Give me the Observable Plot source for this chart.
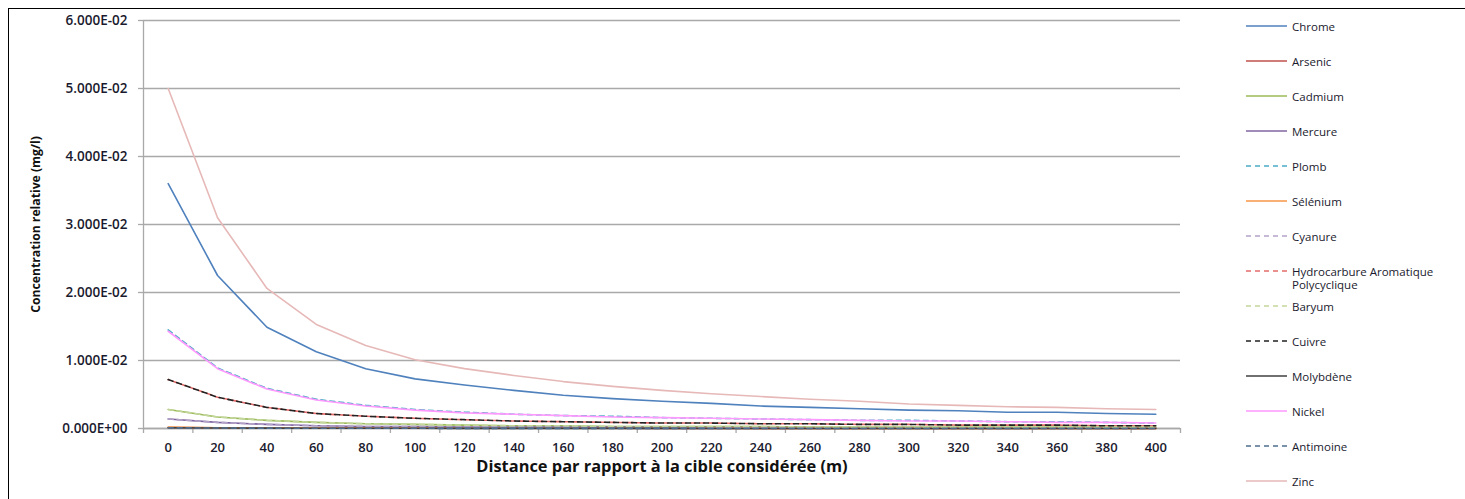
<!DOCTYPE html>
<html>
<head>
<meta charset="utf-8">
<script src="https://cdn.jsdelivr.net/npm/d3@7"></script>
<script src="https://cdn.jsdelivr.net/npm/@observablehq/plot@0.6"></script>
<style>
  html, body { margin: 0; padding: 0; background: #fff; overflow: hidden; }
  #wrap { position: relative; width: 1465px; height: 499px; }
  #frame { position: absolute; left: 8px; top: 8px; width: 1600px; height: 700px; border: 1.5px solid #000; pointer-events: none; }
  #chart { position: absolute; left: 0; top: 0; }
  #legend { position: absolute; left: 1240px; top: 0; font-family: "Open Sans", Lato, sans-serif; font-size: 11.5px; color: #1a1a2e; }
  .item { position: absolute; left: 0; white-space: nowrap; display: flex; align-items: flex-start; }
  .item svg { flex: none; }
  .item span { line-height: 13px; margin-left: 4px; margin-top: -0.5px; }
</style>
</head>
<body>
<div id="wrap">
  <div id="chart"></div>
  <div id="legend"></div>
  <div id="frame"></div>
</div>
<script>
// distances (m)
const distances = [0,20,40,60,80,100,120,140,160,180,200,220,240,260,280,300,320,340,360,380,400];
// y tick values (mg/l)
const yTicks = [0, 0.01, 0.02, 0.03, 0.04, 0.05, 0.06];

// series values (mg/l), one per distance
const chrome    = [0.0360,0.0225,0.0149,0.0113,0.0088,0.0073,0.0064,0.0056,0.0049,0.0044,0.0040,0.0037,0.0033,0.0031,0.0029,0.0027,0.0026,0.0024,0.0024,0.0022,0.0021];
const arsenic   = [0.00015,0.0001,0.00008,0.00006,0.00005,0.00004,0.00004,0.00003,0.00003,0.00003,0.00002,0.00002,0.00002,0.00002,0.00002,0.00002,0.00002,0.00001,0.00001,0.00001,0.00001];
const cadmium   = [0.0028,0.0017,0.0012,0.0009,0.0007,0.0006,0.0005,0.0004,0.0004,0.0003,0.0003,0.0003,0.0003,0.0002,0.0002,0.0002,0.0002,0.0002,0.0002,0.0002,0.0002];
const mercure   = [0.0014,0.0009,0.0006,0.0004,0.0003,0.0003,0.0002,0.0002,0.0002,0.0002,0.00015,0.00015,0.00013,0.00012,0.00011,0.0001,0.0001,0.0001,0.00009,0.00009,0.00008];
const plomb     = [0.0145,0.0089,0.0059,0.0043,0.0034,0.0028,0.0024,0.0021,0.0019,0.0018,0.0016,0.0015,0.0014,0.0013,0.0012,0.0012,0.0011,0.0010,0.0010,0.0009,0.0008];
const selenium  = [0.0002,0.00012,0.00009,0.00007,0.00006,0.00005,0.00004,0.00004,0.00003,0.00003,0.00003,0.00003,0.00002,0.00002,0.00002,0.00002,0.00002,0.00002,0.00002,0.00002,0.00002];
const cyanure   = [0.0014,0.0009,0.0006,0.0004,0.0003,0.0003,0.0002,0.0002,0.0002,0.0002,0.00015,0.00015,0.00013,0.00012,0.00011,0.0001,0.0001,0.0001,0.00009,0.00009,0.00008];
const hap       = [0.0072,0.0046,0.0031,0.0022,0.0018,0.0015,0.0013,0.0011,0.0010,0.0009,0.0008,0.0008,0.0007,0.0007,0.0006,0.0006,0.0005,0.0005,0.0005,0.0004,0.0004];
const baryum    = [0.0028,0.0017,0.0012,0.0009,0.0007,0.0006,0.0005,0.0004,0.0004,0.0003,0.0003,0.0003,0.0003,0.0002,0.0002,0.0002,0.0002,0.0002,0.0002,0.0002,0.0002];
const cuivre    = [0.0072,0.0046,0.0031,0.0022,0.0018,0.0015,0.0013,0.0011,0.0010,0.0009,0.0008,0.0008,0.0007,0.0007,0.0006,0.0006,0.0005,0.0005,0.0005,0.0004,0.0004];
const molybdene = [0.0001,0.00007,0.00005,0.00004,0.00003,0.00003,0.00002,0.00002,0.00002,0.00002,0.00002,0.00001,0.00001,0.00001,0.00001,0.00001,0.00001,0.00001,0.00001,0.00001,0.00001];
const nickel    = [0.0143,0.0088,0.0058,0.0042,0.0033,0.0027,0.0023,0.0021,0.0019,0.0017,0.0016,0.0015,0.0014,0.0013,0.0012,0.0011,0.0011,0.0010,0.0009,0.0009,0.0008];
const antimoine = [0.0001,0.00007,0.00005,0.00004,0.00003,0.00003,0.00002,0.00002,0.00002,0.00002,0.00002,0.00001,0.00001,0.00001,0.00001,0.00001,0.00001,0.00001,0.00001,0.00001,0.00001];
const zinc      = [0.0500,0.0310,0.0206,0.0153,0.0122,0.0101,0.0088,0.0078,0.0069,0.0062,0.0056,0.0051,0.0047,0.0043,0.0040,0.0036,0.0034,0.0032,0.0031,0.0029,0.0028];

const series = [
  {name: "Chrome", values: chrome, color: "#4F81BD", dash: null},
  {name: "Arsenic", values: arsenic, color: "#C0504D", dash: null},
  {name: "Cadmium", values: cadmium, color: "#9BBB59", dash: null},
  {name: "Mercure", values: mercure, color: "#8064A2", dash: null},
  {name: "Plomb", values: plomb, color: "#4BACC6", dash: "5,4"},
  {name: "Sélénium", values: selenium, color: "#F79646", dash: null},
  {name: "Cyanure", values: cyanure, color: "#B3A2C7", dash: "5,4"},
  {name: "Hydrocarbure Aromatique\nPolycyclique", values: hap, color: "#E46C6A", dash: "5,4", offset: 4},
  {name: "Baryum", values: baryum, color: "#C3D69B", dash: "5,4"},
  {name: "Cuivre", values: cuivre, color: "#222222", dash: "5,4"},
  {name: "Molybdène", values: molybdene, color: "#404040", dash: null},
  {name: "Nickel", values: nickel, color: "#FF99FF", dash: null},
  {name: "Antimoine", values: antimoine, color: "#4F6D8F", dash: "5,4"},
  {name: "Zinc", values: zinc, color: "#E6B9B8", dash: null}
];

const fmtE = d => {
  const [m, e] = d.toExponential(3).split("e");
  const n = Math.abs(+e);
  return `${m}E${+e < 0 ? "-" : "+"}${String(n).padStart(2, "0")}`;
};

const step = distances[1] - distances[0];
const bounds = distances.map(d => d - step / 2).concat([distances[distances.length - 1] + step / 2]);
const gray = "#A9A9A9";

const lineMarks = series.map(s => Plot.line(distances.map((d, i) => ({d, v: s.values[i]})), {
  x: "d", y: "v", stroke: s.color, strokeWidth: 1.6,
  strokeDasharray: s.dash || undefined,
  strokeDashoffset: s.offset || 0
}));

const chart = Plot.plot({
  width: 1465,
  height: 499,
  marginLeft: 143,
  marginRight: 285,
  marginTop: 20,
  marginBottom: 71,
  style: {fontFamily: "'Open Sans', Lato, sans-serif", fontSize: "12.5px", color: "#1a1a2e", background: "transparent"},
  x: {domain: [bounds[0], bounds[bounds.length - 1]]},
  y: {domain: [yTicks[0], yTicks[yTicks.length - 1]]},
  marks: [
    Plot.gridY(yTicks, {stroke: gray, strokeOpacity: 1, strokeWidth: 1.3}),
    Plot.ruleX([bounds[0]], {stroke: gray, strokeWidth: 1.3}),
    Plot.ruleY([yTicks[0]], {stroke: gray, strokeWidth: 1.3}),
    Plot.axisY(yTicks, {tickSize: 5, tickPadding: 11, stroke: gray, strokeWidth: 1.3, tickFormat: fmtE, fontWeight: 600, fontSize: 13.5, label: null}),
    Plot.axisX(bounds, {tickSize: 5, tickFormat: () => "", stroke: gray, strokeWidth: 1.3, label: null}),
    Plot.axisX(distances, {tickSize: 0, tickPadding: 14, tickFormat: d => String(d), fontWeight: 600, fontSize: 13, label: null}),
    ...lineMarks,
    Plot.text(["Distance par rapport à la cible considérée (m)"], {frameAnchor: "bottom", dy: 43, fontSize: 16.4, fontWeight: "bold", fill: "#111"}),
    Plot.text(["Concentration relative (mg/l)"], {frameAnchor: "left", textAnchor: "middle", dx: -107, rotate: -90, fontSize: 12.2, fontWeight: "bold", fill: "#111"})
  ]
});
document.getElementById("chart").appendChild(chart);

// legend
const legend = document.getElementById("legend");
series.forEach((s, i) => {
  const item = document.createElement("div");
  item.className = "item";
  item.style.top = (20 + i * 35) + "px";
  const ns = "http://www.w3.org/2000/svg";
  const svg = document.createElementNS(ns, "svg");
  svg.setAttribute("width", 48); svg.setAttribute("height", 12);
  const ln = document.createElementNS(ns, "line");
  ln.setAttribute("x1", 6); ln.setAttribute("x2", 47);
  ln.setAttribute("y1", 6); ln.setAttribute("y2", 6);
  ln.setAttribute("stroke", s.color); ln.setAttribute("stroke-width", 1.6);
  if (s.dash) ln.setAttribute("stroke-dasharray", s.dash);
  svg.appendChild(ln);
  const span = document.createElement("span");
  span.innerHTML = s.name.split("\n").join("<br>");
  item.appendChild(svg); item.appendChild(span);
  legend.appendChild(item);
});
</script>
</body>
</html>
